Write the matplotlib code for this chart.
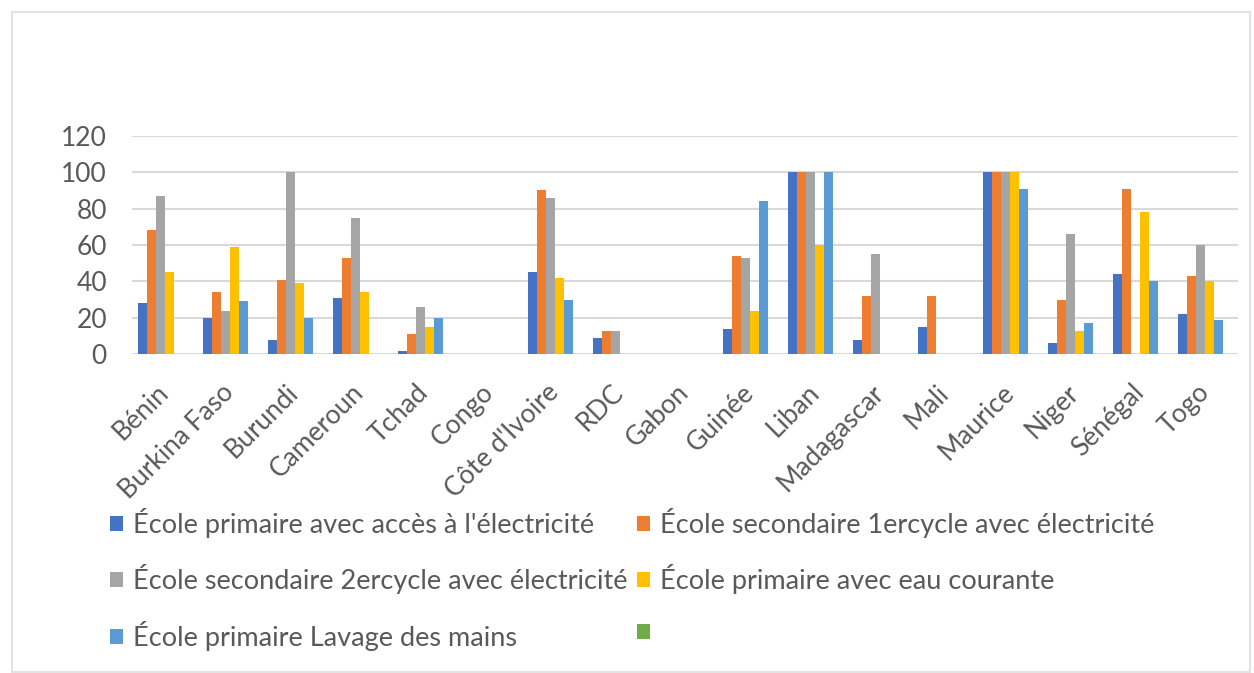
import matplotlib
matplotlib.use("Agg")
import matplotlib.pyplot as plt
from matplotlib.patches import Patch, Rectangle
import numpy as np

# school infrastructure by country (percent)
countries = ["Bénin", "Burkina Faso", "Burundi", "Cameroun", "Tchad", "Congo",
             "Côte d'Ivoire", "RDC", "Gabon", "Guinée", "Liban", "Madagascar",
             "Mali", "Maurice", "Niger", "Sénégal", "Togo"]

primaire_elec = [28, 20, 8, 31, 2, 0, 45, 9, 0, 14, 100, 8, 15, 100, 6, 44, 22]
secondaire1_elec = [68, 34, 41, 53, 11, 0, 90, 13, 0, 54, 100, 32, 32, 100, 30, 91, 43]
secondaire2_elec = [87, 24, 100, 75, 26, 0, 86, 13, 0, 53, 100, 55, 0, 100, 66, 0, 60]
primaire_eau = [45, 59, 39, 34, 15, 0, 42, 0, 0, 24, 60, 0, 0, 100, 13, 78, 40]
primaire_mains = [0, 29, 20, 0, 20, 0, 30, 0, 0, 84, 100, 0, 0, 91, 17, 40, 19]
serie6 = [0] * 17

series_names = ["École primaire avec accès à l'électricité",
                "École secondaire 1ercycle avec électricité",
                "École secondaire 2ercycle avec électricité",
                "École primaire avec eau courante",
                "École primaire Lavage des mains",
                ""]
colors = ["#4472C4", "#ED7D31", "#A5A5A5", "#FFC000", "#5B9BD5", "#70AD47"]
yticks = [0, 20, 40, 60, 80, 100, 120]

plt.rcParams["font.family"] = ["Lato", "DejaVu Sans"]
text_color = "#595959"

fig = plt.figure(figsize=(12.54, 6.73), dpi=100)
fig.patches.append(Rectangle((12 / 1254, 1 / 673), 1238 / 1254, 660 / 673,
                             transform=fig.transFigure, fill=False,
                             edgecolor="#E3E3E3", linewidth=1.5))

ax = fig.add_axes([132 / 1254, 1 - 354.3 / 673, 1106 / 1254, 218.6 / 673])

data = [primaire_elec, secondaire1_elec, secondaire2_elec,
        primaire_eau, primaire_mains, serie6]
x = np.arange(len(countries))
w = 9 / 65
for i, vals in enumerate(data):
    ax.bar(x + (i - 2.5) * w, vals, width=w, color=colors[i], zorder=3)

ax.set_xlim(-0.5, len(countries) - 0.5)
ax.set_ylim(0, 120)
ax.set_yticks(yticks)
ax.yaxis.grid(True, color="#D9D9D9", linewidth=1.5, zorder=0)
for side in ["top", "right", "left", "bottom"]:
    ax.spines[side].set_visible(False)
ax.tick_params(axis="both", length=0, colors=text_color)
ax.tick_params(axis="y", pad=18, labelsize=19)

ax.set_xticks(x)
ax.set_xticklabels(countries, rotation=45, ha="right", va="center",
                   rotation_mode="anchor", fontsize=19, color=text_color)
for lbl in ax.get_xticklabels():
    lbl.set_y(-0.135)

# legend is filled row by row: 1,2 / 3,4 / 5,6
order = [0, 2, 4, 1, 3, 5]
handles = [Patch(facecolor=colors[i]) for i in order]
labels = [series_names[i] for i in order]
fig.legend(handles, labels, ncol=2, loc="upper left",
           bbox_to_anchor=(99 / 1254, 1 - 497 / 673), frameon=False,
           fontsize=19.5, labelcolor=text_color, handlelength=0.5,
           handleheight=0.5, handletextpad=0.35, columnspacing=0.35,
           labelspacing=0.98, borderaxespad=0)

fig.savefig("out.png", dpi=100)
